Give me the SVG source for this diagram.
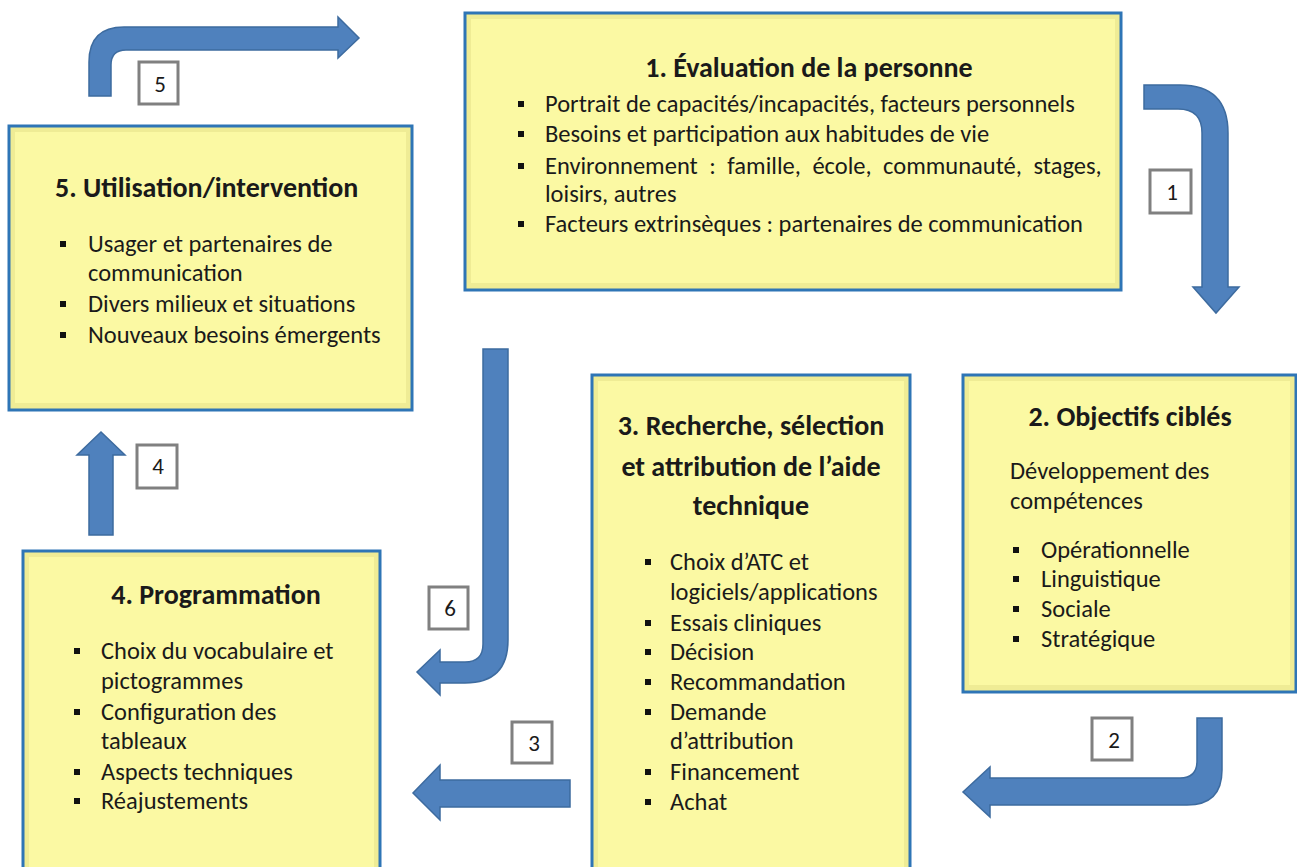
<svg xmlns="http://www.w3.org/2000/svg" width="1297" height="867" viewBox="0 0 1297 867">
<defs>
<style>
.box{fill:#efec95;stroke:#2e75b6;stroke-width:3}
.inner{fill:#fbf9a3}
.t{font-family:Carlito,Lato,"Liberation Sans",sans-serif;font-size:24.5px;fill:#1a1a1a}
.h{font-weight:bold;font-size:28px}
.arrow{fill:#4f81bd;stroke:#3d6b9f;stroke-width:1.5}
.lbl{fill:#fff;stroke:#808080;stroke-width:3}
.num{font-family:Carlito,Lato,"Liberation Sans",sans-serif;font-size:23px;fill:#1a1a1a;text-anchor:middle}
.b{fill:#111}
</style>
</defs>
<rect width="1297" height="867" fill="#fff"/>
<g id="connectors">
<path class="arrow" d="M89,96 L89,62 Q89,27 124,27 L338,27 L338,17 L359,38 L338,58 L338,50 L126,50 Q111,50 111,65 L111,96 Z"/>
<path class="arrow" d="M1144,85 L1180,85 Q1228,85 1228,133 L1228,287 L1239,287 L1216,313 L1193,287 L1202,287 L1202,133 Q1202,109 1178,109 L1144,109 Z"/>
<path class="arrow" d="M483,349 L508,349 L508,640 Q508,683 465,683 L440,683 L440,695 L417,672 L440,650 L440,662 L465,662 Q483,662 483,644 Z"/>
<path class="arrow" d="M1197,718 L1222,718 L1222,770 Q1222,805 1187,805 L990,805 L990,817 L963,792 L990,767 L990,778 L1180,778 Q1197,778 1197,761 Z"/>
<path class="arrow" d="M570,780 L570,807 L440,807 L440,820 L413,793 L440,765 L440,780 Z"/>
<path class="arrow" d="M89,535 L113,535 L113,455 L125,455 L101,432 L77,455 L89,455 Z"/>
</g>
<g id="label5"><rect class="lbl" x="139" y="62" width="39" height="42"/><text class="num" x="160" y="92">5</text></g>
<g id="label1"><rect class="lbl" x="1150" y="170" width="41" height="43"/><text class="num" x="1172" y="200">1</text></g>
<g id="label6"><rect class="lbl" x="429" y="587" width="39" height="42"/><text class="num" x="450" y="616">6</text></g>
<g id="label2"><rect class="lbl" x="1092" y="718" width="40" height="42"/><text class="num" x="1114" y="748">2</text></g>
<g id="label3"><rect class="lbl" x="512" y="722" width="40" height="41"/><text class="num" x="534" y="751">3</text></g>
<g id="label4"><rect class="lbl" x="137" y="445" width="40" height="43"/><text class="num" x="158" y="474">4</text></g>

<g id="node1">
<rect class="box" x="465" y="13" width="656" height="277"/>
<rect class="inner" x="471" y="19" width="644" height="264"/>
<text class="t h" x="809" y="77" text-anchor="middle">1.  Évaluation de la personne</text>
<rect class="b" x="518" y="101" width="6" height="6"/><text class="t" x="545" y="112">Portrait de capacités/incapacités, facteurs personnels</text>
<rect class="b" x="518" y="131" width="6" height="6"/><text class="t" x="545" y="142">Besoins et participation aux habitudes de vie</text>
<rect class="b" x="518" y="163" width="6" height="6"/><text class="t" x="545" y="174" word-spacing="6">Environnement : famille, école, communauté, stages,</text>
<text class="t" x="545" y="202">loisirs, autres</text>
<rect class="b" x="518" y="221" width="6" height="6"/><text class="t" x="545" y="232">Facteurs extrinsèques : partenaires de communication</text>
</g>

<g id="node5">
<rect class="box" x="9" y="126" width="403" height="284"/>
<rect class="inner" x="15" y="132" width="391" height="271"/>
<text class="t h" x="55" y="197">5. Utilisation/intervention</text>
<rect class="b" x="60" y="241" width="6" height="6"/><text class="t" x="88" y="252">Usager et partenaires de</text>
<text class="t" x="88" y="281">communication</text>
<rect class="b" x="60" y="301" width="6" height="6"/><text class="t" x="88" y="312">Divers milieux et situations</text>
<rect class="b" x="60" y="332" width="6" height="6"/><text class="t" x="88" y="343">Nouveaux besoins émergents</text>
</g>

<g id="node2">
<rect class="box" x="963" y="375" width="333" height="317"/>
<rect class="inner" x="969" y="381" width="321" height="304"/>
<text class="t h" x="1130" y="426" text-anchor="middle">2.  Objectifs ciblés</text>
<text class="t" x="1010" y="479">Développement des</text>
<text class="t" x="1010" y="509">compétences</text>
<rect class="b" x="1013" y="547" width="6" height="6"/><text class="t" x="1041" y="558">Opérationnelle</text>
<rect class="b" x="1013" y="576" width="6" height="6"/><text class="t" x="1041" y="587">Linguistique</text>
<rect class="b" x="1013" y="606" width="6" height="6"/><text class="t" x="1041" y="617">Sociale</text>
<rect class="b" x="1013" y="636" width="6" height="6"/><text class="t" x="1041" y="647">Stratégique</text>
</g>

<g id="node3">
<rect class="box" x="592" y="375" width="318" height="500"/>
<rect class="inner" x="598" y="381" width="306" height="490"/>
<text class="t h" x="751" y="435" text-anchor="middle">3. Recherche, sélection</text>
<text class="t h" x="751" y="476" text-anchor="middle">et attribution de l’aide</text>
<text class="t h" x="751" y="515" text-anchor="middle">technique</text>
<rect class="b" x="645" y="559" width="6" height="6"/><text class="t" x="670" y="570">Choix d’ATC et</text>
<text class="t" x="670" y="600">logiciels/applications</text>
<rect class="b" x="645" y="620" width="6" height="6"/><text class="t" x="670" y="631">Essais cliniques</text>
<rect class="b" x="645" y="649" width="6" height="6"/><text class="t" x="670" y="660">Décision</text>
<rect class="b" x="645" y="679" width="6" height="6"/><text class="t" x="670" y="690">Recommandation</text>
<rect class="b" x="645" y="709" width="6" height="6"/><text class="t" x="670" y="720">Demande</text>
<text class="t" x="670" y="749">d’attribution</text>
<rect class="b" x="645" y="769" width="6" height="6"/><text class="t" x="670" y="780">Financement</text>
<rect class="b" x="645" y="799" width="6" height="6"/><text class="t" x="670" y="810">Achat</text>
</g>

<g id="node4">
<rect class="box" x="23" y="551" width="357" height="324"/>
<rect class="inner" x="29" y="557" width="345" height="314"/>
<text class="t h" x="216" y="604" text-anchor="middle">4. Programmation</text>
<rect class="b" x="74" y="648" width="6" height="6"/><text class="t" x="101" y="659">Choix du vocabulaire et</text>
<text class="t" x="101" y="689">pictogrammes</text>
<rect class="b" x="74" y="709" width="6" height="6"/><text class="t" x="101" y="720">Configuration des</text>
<text class="t" x="101" y="749">tableaux</text>
<rect class="b" x="74" y="769" width="6" height="6"/><text class="t" x="101" y="780">Aspects techniques</text>
<rect class="b" x="74" y="798" width="6" height="6"/><text class="t" x="101" y="809">Réajustements</text>
</g>
</svg>
